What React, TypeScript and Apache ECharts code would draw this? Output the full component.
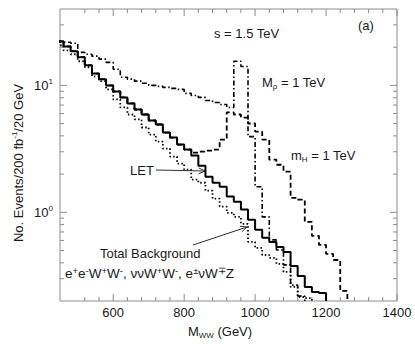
import React, { useEffect, useRef } from 'react';
import * as echarts from 'echarts';

// ---- data (20 GeV bins, first bin starts at 440 GeV) ----
const BIN_START = 440;
const BIN_WIDTH = 20;
const X_MIN = 450;
const X_MAX = 1400;
const Y_MIN = 0.2;
const Y_MAX = 40;

// LET (solid)
const letValues = [22.3, 20.3, 18.6, 16.7, 14.4, 12.4, 11.2, 10.0, 8.97, 8.04, 7.21, 6.46, 5.9, 5.29, 4.92, 4.25, 3.88, 3.42, 3.12, 2.8, 2.33, 1.91, 1.71, 1.59, 1.33, 1.21, 1.05, 0.872, 0.727, 0.629, 0.584, 0.534, 0.487, 0.378, 0.315, 0.258, 0.235, 0.231];
// Total background (dotted)
const backgroundValues = [20.7, 18.9, 17.6, 15.5, 13.9, 11.8, 10.8, 9.3, 7.75, 6.7, 5.9, 5.39, 4.66, 4.1, 3.61, 3.18, 2.75, 2.42, 2.17, 1.81, 1.71, 1.48, 1.28, 1.11, 0.991, 0.921, 0.811, 0.584, 0.524, 0.461, 0.437, 0.392, 0.339, 0.258, 0.215, 0.211];
// m_H = 1 TeV (dashed)
const higgsValues = [22.3, 20.3, 18.6, 16.7, 14.4, 12.4, 11.2, 10.0, 8.97, 8.04, 7.21, 6.46, 5.9, 5.29, 4.92, 4.25, 3.88, 3.42, 3.12, 2.95, 3.01, 3.06, 3.12, 3.74, 6.12, 5.9, 5.58, 5.01, 4.33, 3.74, 2.6, 2.37, 2.09, 1.3, 1.26, 0.841, 0.652, 0.553, 0.47, 0.421, 0.24];
// M_rho = 1 TeV (dash-dot)
const rhoValues = [21.9, 21.9, 21.5, 18.2, 17.6, 17.0, 16.1, 15.2, 13.4, 11.6, 11.2, 10.8, 10.4, 10.0, 9.82, 9.64, 9.47, 9.3, 8.65, 8.33, 8.04, 7.61, 7.34, 7.08, 6.7, 15.5, 14.1, 3.95, 1.59, 0.921, 0.606, 0.505, 0.385, 0.267, 0.219];

// ticks
const xMajorTicks = [600, 800, 1000, 1200, 1400];
const xMinorTicks = [520, 560, 640, 680, 720, 760, 840, 880, 920, 960, 1040, 1080, 1120, 1160, 1240, 1280, 1320, 1360];
const yMajorTicks = [1, 10];
const yMinorTicks = [0.3, 0.4, 0.5, 0.6, 0.7, 0.8, 0.9, 2, 3, 4, 5, 6, 7, 8, 9, 20, 30];

const FONT = "'Liberation Sans', Arial, Helvetica, sans-serif";
const TEXT_COLOR = '#1a1a1a';
const FRAME_COLOR = '#8c8c8c';

function histogram(values: number[]): number[][] {
  const pts = values.map((v, i) => [BIN_START + i * BIN_WIDTH, v]);
  pts.push([BIN_START + values.length * BIN_WIDTH, Y_MIN]);
  return pts;
}

const tickData = [
  ...xMinorTicks.map((v) => [v, Y_MIN, 0, 4]),
  ...xMajorTicks.map((v) => [v, Y_MIN, 0, 7]),
  ...yMinorTicks.map((v) => [X_MIN, v, 1, 4]),
  ...yMajorTicks.map((v) => [X_MIN, v, 1, 7]),
];

const richBase = {
  b: { fontSize: 13, lineHeight: 16, fontFamily: FONT, fill: TEXT_COLOR, color: TEXT_COLOR },
  s: { fontSize: 8, lineHeight: 8, verticalAlign: 'top', fontFamily: FONT, fill: TEXT_COLOR, color: TEXT_COLOR },
  S: { fontSize: 9.5, lineHeight: 9, verticalAlign: 'top', fontFamily: FONT, fill: TEXT_COLOR, color: TEXT_COLOR },
  d: { fontSize: 8, lineHeight: 8, verticalAlign: 'bottom', fontFamily: FONT, fill: TEXT_COLOR, color: TEXT_COLOR },
};

function label(x: number, y: number, text: string, extra: any = {}) {
  const size = extra.fontSize || 13;
  return {
    type: 'text',
    x,
    y,
    silent: true,
    rotation: extra.rotation || 0,
    style: {
      text,
      rich: richBase,
      fontSize: size,
      lineHeight: 16,
      fontFamily: FONT,
      fill: TEXT_COLOR,
      align: extra.align || 'left',
      verticalAlign: 'middle',
      textAlign: extra.align || 'left',
      textVerticalAlign: 'middle',
    },
  };
}

function arrow(x1: number, y1: number, x2: number, y2: number) {
  const len = Math.hypot(x2 - x1, y2 - y1);
  const ux = (x2 - x1) / len;
  const uy = (y2 - y1) / len;
  const h = 7;
  const a = (25 * Math.PI) / 180;
  const bx = -ux * h;
  const by = -uy * h;
  const p1 = [x2 + bx * Math.cos(a) - by * Math.sin(a), y2 + bx * Math.sin(a) + by * Math.cos(a)];
  const p2 = [x2 + bx * Math.cos(-a) - by * Math.sin(-a), y2 + bx * Math.sin(-a) + by * Math.cos(-a)];
  const style = { stroke: '#333', lineWidth: 1, fill: null };
  return [
    { type: 'line', silent: true, shape: { x1, y1, x2, y2 }, style },
    { type: 'polyline', silent: true, shape: { points: [p1, [x2, y2], p2] }, style },
  ];
}

function lineSeries(name: string, values: number[], width: number, type: any) {
  return {
    name,
    type: 'line',
    step: 'end',
    data: histogram(values),
    showSymbol: false,
    symbol: 'none',
    silent: true,
    clip: true,
    lineStyle: { color: '#000', width, type },
  };
}

export default function App() {
  const ref = useRef<HTMLDivElement>(null);
  useEffect(() => {
    if (!ref.current) return;
    const chart = echarts.init(ref.current, null, { renderer: 'svg' });
    chart.setOption({
      animation: false,
      backgroundColor: '#fff',
      grid: {
        left: 60,
        right: 18,
        top: 9,
        bottom: 43,
        show: true,
        borderColor: FRAME_COLOR,
        borderWidth: 1,
        outerBoundsMode: 'none',
      },
      xAxis: {
        type: 'value',
        min: X_MIN,
        max: X_MAX,
        interval: 50,
        axisLine: { show: false },
        axisTick: { show: false },
        splitLine: { show: false },
        axisLabel: {
          formatter: (v: number) => (xMajorTicks.includes(Math.round(v)) ? String(Math.round(v)) : ''),
          fontSize: 13,
          fontFamily: FONT,
          color: TEXT_COLOR,
          margin: 5,
          showMinLabel: true,
          showMaxLabel: true,
        },
      },
      yAxis: {
        type: 'log',
        logBase: 10,
        min: Y_MIN,
        max: Y_MAX,
        axisLine: { show: false },
        axisTick: { show: false },
        splitLine: { show: false },
        axisLabel: {
          formatter: (v: number) => {
            const i = yMajorTicks.findIndex((t) => Math.abs(t - v) < 1e-6 * t);
            return i >= 0 ? `{b|10}{s|${Math.round(Math.log10(yMajorTicks[i]))}}` : '';
          },
          rich: richBase,
          margin: 7,
        },
      },
      series: [
        {
          type: 'custom',
          silent: true,
          data: tickData,
          clip: false,
          z: 1,
          renderItem: (_params: any, api: any) => {
            const isY = api.value(2) === 1;
            const len = api.value(3);
            const style = { stroke: FRAME_COLOR, lineWidth: 1 };
            if (!isY) {
              const x = api.value(0);
              const b = api.coord([x, Y_MIN]);
              const t = api.coord([x, Y_MAX]);
              return {
                type: 'group',
                children: [
                  { type: 'line', shape: { x1: b[0], y1: b[1], x2: b[0], y2: b[1] - len }, style },
                  { type: 'line', shape: { x1: t[0], y1: t[1], x2: t[0], y2: t[1] + len }, style },
                ],
              };
            }
            const y = api.value(1);
            const l = api.coord([X_MIN, y]);
            const r = api.coord([X_MAX, y]);
            return {
              type: 'group',
              children: [
                { type: 'line', shape: { x1: l[0], y1: l[1], x2: l[0] + len, y2: l[1] }, style },
                { type: 'line', shape: { x1: r[0], y1: r[1], x2: r[0] - len, y2: r[1] }, style },
              ],
            };
          },
        },
        lineSeries('m_H = 1 TeV', higgsValues, 1.8, [5, 3]),
        lineSeries('M_rho = 1 TeV', rhoValues, 1.6, [5, 2.5, 1.5, 2.5]),
        lineSeries('Total Background', backgroundValues, 1.8, [1.5, 2.3]),
        lineSeries('LET', letValues, 2, 'solid'),
      ],
      graphic: [
        label(18, 163, 'No. Events/200 fb{s|-1}/20 GeV', { rotation: Math.PI / 2, align: 'center' }),
        label(220, 331, 'M{d|WW} (GeV)', { align: 'center' }),
        label(214, 33, 's = 1.5 TeV'),
        label(358, 25, '(a)'),
        label(262, 82, 'M{d|ρ} = 1 TeV'),
        label(291, 155, 'm{d|H} = 1 TeV'),
        label(130, 170, 'LET'),
        label(100, 253, 'Total Background'),
        label(65, 273, 'e{S|+}e{S|-}W{S|+}W{S|-}, ννW{S|+}W{S|-}, e{S|±}νW{S|∓}Z', { fontSize: 13.5 }),
        ...arrow(156, 170, 205, 171),
        ...arrow(193, 245, 247, 227),
      ],
    });
    return () => chart.dispose();
  }, []);
  return (
    <div
      ref={ref}
      style={{ position: 'absolute', left: 0, top: 0, width: 415, height: 344, background: '#fff' }}
    />
  );
}
